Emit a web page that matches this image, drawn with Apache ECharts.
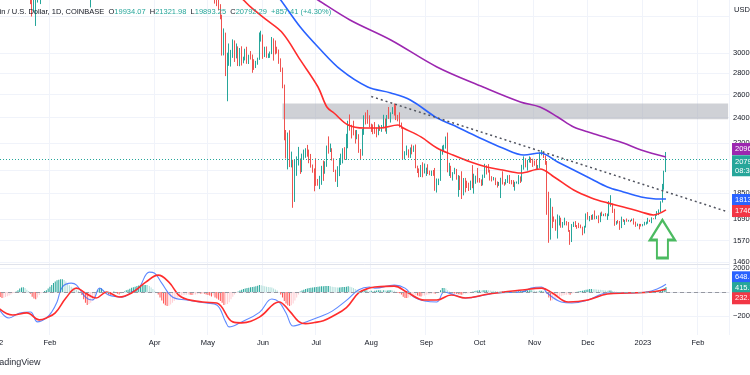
<!DOCTYPE html>
<html>
<head>
<meta charset="utf-8">
<script src="https://cdn.jsdelivr.net/npm/echarts@6/dist/echarts.min.js"></script>
<style>
html, body { margin: 0; padding: 0; background: #fff; }
#chart { width: 750px; height: 375px; }
</style>
</head>
<body>
<div id="chart"></div>
<script>
// BTC/USD daily, Coinbase. Candles are [open, close, low, high]
const FONT = 'Liberation Sans, Arial, sans-serif';

const monthLabels = [
  ['2022-01-01', '2022'], ['2022-02-01', 'Feb'], ['2022-04-01', 'Apr'], ['2022-05-01', 'May'],
  ['2022-06-01', 'Jun'], ['2022-07-01', 'Jul'], ['2022-08-01', 'Aug'], ['2022-09-01', 'Sep'],
  ['2022-10-01', 'Oct'], ['2022-11-01', 'Nov'], ['2022-12-01', 'Dec'], ['2023-01-01', '2023'],
  ['2023-02-01', 'Feb']
];
const priceTicks = [30000, 28000, 26000, 24000, 22000, 20000, 18500, 16900, 15700, 14600];
const priceGridLines = [34000, 30000, 28000, 26000, 24000, 22000, 20000, 18500, 16900, 15700, 14600];
const macdTicks = [2000, -2000];

const candlesJan22 = [ // from 2022-01-21
  [38970, 36270, 35500, 39150], [36270, 35070, 34020, 36440], [35070, 36250, 34600, 36500],
  [36250, 36660, 32930, 37500], [36660, 36950, 35700, 37550], [36950, 36840, 36250, 38900],
  [36840, 37200, 35510, 37230], [37200, 37720, 36200, 38000], [37720, 38160, 37320, 38700],
  [38160, 37900, 37360, 38370], [37900, 38480, 36650, 38720], [38480, 38700, 38000, 39250]
];
const candlesFeb22 = [ // from 2022-02-22
  [37000, 38250, 36350, 38450], [38250, 37250, 37050, 39230], [37250, 38330, 35100, 38950],
  [38330, 39220, 38020, 39700]
];
const candlesMay = [ // from 2022-05-05
  [39690, 36550, 35570, 39850], [36550, 36010, 35260, 36650], [36010, 35470, 34750, 36130],
  [35470, 34060, 33700, 35500], [34060, 30070, 29730, 34230], [30070, 31010, 29750, 32650],
  [31010, 28940, 27700, 32180], [28940, 29030, 25400, 30030], [29030, 29290, 28700, 31000],
  [29290, 30080, 28630, 30320], [30080, 31330, 29500, 31440], [31330, 29830, 29090, 31330],
  [29830, 30450, 29450, 31000], [30450, 28710, 28680, 30690], [28710, 30290, 28660, 30520],
  [30290, 29190, 28730, 30700], [29190, 29430, 28950, 29620], [29430, 30280, 29240, 30440],
  [30280, 29100, 28900, 30650], [29100, 29650, 28880, 29820], [29650, 29560, 29330, 30200],
  [29560, 29270, 28020, 29840], [29270, 28630, 28300, 29360], [28630, 29030, 28480, 29200],
  [29030, 29470, 28810, 29520], [29470, 31720, 29300, 32200], [31720, 31790, 31200, 32390]
];
const candlesJun = [
  [31790, 29800, 29400, 31970], [29800, 30450, 29580, 30650], [30450, 29700, 29500, 30680],
  [29700, 29860, 29480, 29950], [29860, 29910, 29500, 30150], [29910, 31370, 29880, 31700],
  [31370, 31130, 29220, 31550], [31130, 30200, 29850, 31320], [30200, 30110, 29940, 30650],
  [30110, 29090, 28900, 30360], [29090, 28400, 28100, 29450], [28400, 26590, 26560, 28530],
  [26590, 22480, 22200, 26900], [22480, 22130, 20850, 23000], [22130, 22580, 20080, 22800],
  [22580, 20390, 20240, 22980], [20390, 20470, 20220, 21350], [20470, 19000, 17590, 20760],
  [19000, 20560, 17950, 20780], [20560, 20570, 19640, 21000], [20570, 20710, 20350, 21700],
  [20710, 19960, 19770, 20850], [19960, 21090, 19890, 21200], [21090, 21230, 20750, 21500],
  [21230, 21490, 20900, 21600], [21490, 21030, 20980, 21850], [21030, 20720, 20510, 21500],
  [20720, 20250, 20200, 21180], [20250, 20100, 19850, 20420], [20100, 19930, 18620, 20150]
];
const candlesJul = [
  [19930, 19280, 18970, 20870], [19280, 19240, 18980, 19430], [19240, 19300, 18760, 19640],
  [19300, 20230, 19040, 20330], [20230, 20190, 19300, 20700], [20190, 20550, 19780, 20650],
  [20550, 21630, 20260, 21800], [21630, 21590, 21200, 22500], [21590, 21590, 21320, 21950],
  [21590, 20840, 20700, 21600], [20840, 19960, 19900, 20860], [19960, 19330, 19240, 20060],
  [19330, 20220, 18900, 20300], [20220, 20580, 19620, 20880], [20580, 20830, 20390, 21200],
  [20830, 21190, 20500, 21600], [21190, 20790, 20760, 21680], [20790, 22430, 20750, 22700],
  [22430, 23400, 21600, 23750], [23400, 23230, 22950, 24270], [23230, 23160, 22340, 23420],
  [23160, 22690, 22580, 23750], [22690, 22460, 21950, 22990], [22460, 22580, 22280, 23000],
  [22580, 21310, 21260, 22670], [21310, 21250, 20740, 21540], [21250, 22950, 21050, 23100],
  [22950, 23850, 22620, 24200], [23850, 23780, 23440, 24440], [23780, 23650, 23500, 24650],
  [23650, 23300, 23220, 24200]
];
const candlesAug = [
  [23300, 23270, 22850, 23510], [23270, 22980, 22670, 23450], [22980, 22820, 22700, 23640],
  [22820, 22620, 22430, 23200], [22620, 23310, 22590, 23450], [23310, 23180, 22930, 23350],
  [23180, 23180, 22860, 23400], [23180, 23810, 23150, 24240], [23810, 23160, 22880, 23930],
  [23160, 23950, 22700, 24220], [23950, 23930, 23900, 24900], [23930, 24410, 23600, 24450],
  [24410, 24450, 24300, 24890], [24450, 24300, 24180, 25200], [24300, 24100, 23800, 25050],
  [24100, 23860, 23700, 24230], [23860, 23340, 23200, 24450], [23340, 23200, 23100, 23600],
  [23200, 20880, 20800, 23200], [20880, 21150, 20780, 21380], [21150, 21520, 21080, 21800],
  [21520, 21400, 20900, 21520], [21400, 21530, 20890, 21660], [21530, 21370, 21150, 21880],
  [21370, 21570, 21330, 21800], [21570, 20250, 20160, 21880], [20250, 20040, 19830, 20340],
  [20040, 19560, 19540, 20150], [19560, 20290, 19560, 20390], [20290, 19800, 19540, 20580],
  [19800, 20050, 19800, 20490]
];
const candlesSep = [
  [20050, 20130, 19630, 20200], [20130, 19950, 19760, 20440], [19950, 19830, 19680, 20000],
  [19830, 19990, 19630, 20000], [19990, 19800, 19640, 20040], [19800, 18790, 18650, 20180],
  [18790, 19290, 18540, 19460], [19290, 19320, 19020, 19450], [19320, 21370, 19300, 21550],
  [21370, 21650, 21120, 21800], [21650, 21830, 21380, 21860], [21830, 22400, 21570, 22490],
  [22400, 20180, 19880, 22800], [20180, 20230, 19630, 20540], [20230, 19710, 19500, 20330],
  [19710, 19800, 19320, 19890], [19800, 20110, 19750, 20190], [20110, 19420, 19380, 20110],
  [19420, 19540, 18270, 19690], [19540, 18880, 18700, 19640], [18880, 18490, 18130, 19950],
  [18490, 19410, 18360, 19490], [19410, 19290, 18550, 19500], [19290, 18920, 18830, 19310],
  [18920, 18810, 18640, 19180], [18810, 19220, 18700, 19320], [19220, 19090, 18820, 20380],
  [19090, 19420, 18470, 19780], [19420, 19590, 19110, 19650], [19590, 19420, 19190, 20180]
];
const candlesOct = [
  [19420, 19310, 19180, 19490], [19310, 19060, 18960, 19400], [19060, 19630, 19000, 19720],
  [19630, 20340, 19500, 20470], [20340, 20160, 19730, 20370], [20160, 19960, 19860, 20450],
  [19960, 19530, 19320, 20060], [19530, 19420, 19260, 19620], [19420, 19440, 19330, 19560],
  [19440, 19130, 19020, 19520], [19130, 19060, 18860, 19260], [19060, 19160, 18970, 19230],
  [19160, 19380, 18190, 19510], [19380, 19180, 19060, 19950], [19180, 19070, 18980, 19220],
  [19070, 19260, 19060, 19420], [19260, 19550, 19160, 19680], [19550, 19330, 19100, 19700],
  [19330, 19130, 19070, 19360], [19130, 19040, 18900, 19350], [19040, 19170, 18660, 19240],
  [19170, 19200, 19120, 19260], [19200, 19570, 19080, 19690], [19570, 19330, 19160, 19600],
  [19330, 20090, 19250, 20400], [20090, 20770, 20060, 21000], [20770, 20290, 20220, 20870],
  [20290, 20600, 20000, 20750], [20600, 20820, 20560, 21000], [20820, 20630, 20530, 20930],
  [20630, 20490, 20250, 20830]
];
const candlesNov = [
  [20490, 20480, 20340, 20700], [20480, 20150, 20070, 20800], [20150, 20200, 20050, 20390],
  [20200, 21140, 20180, 21300], [21140, 21300, 21080, 21470], [21300, 20910, 20880, 21360],
  [20910, 20590, 20400, 21060], [20590, 18540, 17170, 20670], [18540, 15880, 15590, 18590],
  [15880, 17590, 15760, 18180], [17590, 17070, 16400, 17650], [17070, 16800, 16760, 17070],
  [16800, 16330, 16250, 16900], [16330, 16620, 15820, 17190], [16620, 16900, 16550, 17120],
  [16900, 16660, 16420, 17000], [16660, 16690, 16420, 16750], [16690, 16700, 16560, 17000],
  [16700, 16630, 16550, 16800], [16630, 16280, 16190, 16750], [16280, 15780, 15480, 16290],
  [15780, 16590, 15630, 16630], [16590, 16600, 16460, 16760], [16600, 16520, 16460, 16800],
  [16520, 16460, 16360, 16570], [16460, 16440, 16400, 16700], [16440, 16430, 16390, 16600],
  [16430, 16210, 16000, 16480], [16210, 16440, 16100, 16530], [16440, 17160, 16430, 17250]
];
const candlesDec = [
  [17160, 16980, 16880, 17330], [16980, 17090, 16790, 17100], [17090, 16890, 16870, 17160],
  [16890, 17110, 16880, 17200], [17110, 16970, 16900, 17430], [16970, 17090, 16920, 17110],
  [17090, 16840, 16680, 17140], [16840, 17230, 16740, 17300], [17230, 17130, 17090, 17360],
  [17130, 17130, 17090, 17230], [17130, 17090, 17080, 17270], [17090, 17210, 16870, 17240],
  [17210, 17780, 17090, 18000], [17780, 17810, 17660, 18370], [17810, 17360, 17280, 17850],
  [17360, 16630, 16530, 17530], [16630, 16780, 16590, 16800], [16780, 16740, 16660, 16860],
  [16740, 16440, 16300, 16810], [16440, 16900, 16400, 17060], [16900, 16820, 16760, 16920],
  [16820, 16830, 16580, 16870], [16830, 16780, 16760, 16950], [16780, 16840, 16770, 16870],
  [16840, 16830, 16740, 16860], [16830, 16910, 16800, 16940], [16910, 16700, 16600, 16960],
  [16700, 16540, 16470, 16770], [16540, 16630, 16510, 16660], [16630, 16600, 16330, 16640],
  [16600, 16540, 16490, 16640]
];
const candlesJan23 = [
  [16540, 16620, 16500, 16630], [16620, 16670, 16550, 16760], [16670, 16670, 16600, 16770],
  [16670, 16850, 16650, 16990], [16850, 16830, 16750, 16880], [16830, 16950, 16680, 17020],
  [16950, 16940, 16910, 16970], [16940, 17120, 16910, 17170], [17120, 17190, 17110, 17390],
  [17190, 17440, 17150, 17490], [17440, 17940, 17320, 17990], [17940, 18850, 17910, 19100],
  [18850, 19930, 18720, 19990], [19934.07, 20792.29, 19893.25, 21321.98]
];

// moving averages: [date, value]
const ma50 = [
  ['2022-05-10', 38300], ['2022-05-21', 36010], ['2022-05-25', 35160], ['2022-06-03', 33620],
  ['2022-06-12', 32140], ['2022-06-22', 29290], ['2022-07-02', 26680], ['2022-07-07', 24900],
  ['2022-07-11', 24390], ['2022-07-19', 23400], ['2022-07-28', 23160], ['2022-08-06', 23160],
  ['2022-08-16', 23400], ['2022-08-19', 23160], ['2022-08-29', 22460], ['2022-09-07', 21620],
  ['2022-09-16', 21100], ['2022-09-26', 20600], ['2022-10-05', 20250], ['2022-10-14', 20040],
  ['2022-10-24', 19830], ['2022-11-04', 20110], ['2022-11-12', 19560], ['2022-11-23', 18700],
  ['2022-12-03', 18200], ['2022-12-12', 17890], ['2022-12-21', 17640], ['2022-12-31', 17340],
  ['2023-01-07', 17160], ['2023-01-14', 17460]
];
const ma100 = [
  ['2022-06-01', 39000], ['2022-06-11', 36010], ['2022-06-22', 32810], ['2022-07-02', 30630],
  ['2022-07-15', 28290], ['2022-07-30', 26680], ['2022-08-12', 26140], ['2022-08-23', 25510],
  ['2022-09-07', 23980], ['2022-09-16', 23400], ['2022-09-30', 22460], ['2022-10-14', 21620],
  ['2022-10-26', 21100], ['2022-11-04', 21250], ['2022-11-14', 20600], ['2022-11-23', 20040],
  ['2022-12-03', 19430], ['2022-12-12', 18900], ['2022-12-21', 18580], ['2022-12-31', 18260],
  ['2023-01-07', 18150], ['2023-01-14', 18130]
];
const ma200 = [
  ['2022-06-11', 39100], ['2022-07-02', 36010], ['2022-07-20', 33620], ['2022-08-12', 31380],
  ['2022-09-07', 28590], ['2022-10-03', 26680], ['2022-10-24', 25340], ['2022-11-04', 24900],
  ['2022-11-14', 24060], ['2022-11-23', 23240], ['2022-12-03', 22770], ['2022-12-12', 22380],
  ['2022-12-21', 22000], ['2022-12-31', 21470], ['2023-01-14', 20960]
];
const trendLine = [['2022-08-01', 25820], ['2023-02-18', 17340]];
const resistanceZone = [23870, 25200];
const resistanceFrom = '2022-06-12';
const arrowPoint = [['2023-01-12', 15800]];
const lastClose = 20792.29;

// MACD (12, 26, 9)
const macdLine = [
  ['2022-01-03', -1330], ['2022-01-09', -2170], ['2022-01-15', -1750], ['2022-01-21', -1670],
  ['2022-01-25', -2500], ['2022-01-30', -2170], ['2022-02-02', -1670], ['2022-02-05', -830],
  ['2022-02-08', 420], ['2022-02-13', 750], ['2022-02-16', 580], ['2022-02-21', -420],
  ['2022-02-25', -670], ['2022-03-01', 330], ['2022-03-06', -250], ['2022-03-14', -420],
  ['2022-03-19', 0], ['2022-03-23', 330], ['2022-03-29', 1670], ['2022-04-01', 1580],
  ['2022-04-05', 750], ['2022-04-11', -420], ['2022-04-19', -670], ['2022-04-30', -920],
  ['2022-05-06', -1080], ['2022-05-11', -2500], ['2022-05-13', -2920], ['2022-05-19', -2580],
  ['2022-05-30', -1700], ['2022-06-06', -580], ['2022-06-10', -830], ['2022-06-14', -1750],
  ['2022-06-18', -2850], ['2022-06-22', -2700], ['2022-06-27', -2400], ['2022-07-03', -2080],
  ['2022-07-10', -1600], ['2022-07-18', -700], ['2022-07-25', 200], ['2022-07-31', 420],
  ['2022-08-03', 330], ['2022-08-14', 580], ['2022-08-20', 330], ['2022-08-25', -420],
  ['2022-08-31', -750], ['2022-09-07', -830], ['2022-09-11', 0], ['2022-09-17', -250],
  ['2022-09-23', -500], ['2022-10-04', -250], ['2022-10-10', -80], ['2022-10-25', 0],
  ['2022-10-30', 330], ['2022-11-05', 420], ['2022-11-08', -80], ['2022-11-16', -830],
  ['2022-11-22', -920], ['2022-12-01', -670], ['2022-12-12', -80], ['2022-12-23', -80],
  ['2023-01-03', 0], ['2023-01-09', 250], ['2023-01-14', 648]
];
const signalLine = [
  ['2022-01-03', -1330], ['2022-01-11', -1920], ['2022-01-19', -1750], ['2022-01-26', -2330],
  ['2022-01-30', -2170], ['2022-02-04', -1750], ['2022-02-10', -500], ['2022-02-16', 330],
  ['2022-02-21', -80], ['2022-02-27', -500], ['2022-03-05', 0], ['2022-03-12', -420],
  ['2022-03-19', -80], ['2022-03-27', 830], ['2022-04-03', 1420], ['2022-04-09', 830],
  ['2022-04-16', -420], ['2022-04-28', -830], ['2022-05-06', -920], ['2022-05-15', -2500],
  ['2022-05-20', -2580], ['2022-05-30', -2100], ['2022-06-10', -830], ['2022-06-16', -1600],
  ['2022-06-21', -2450], ['2022-06-25', -2650], ['2022-06-30', -2550], ['2022-07-05', -2400],
  ['2022-07-10', -2050], ['2022-07-18', -1300], ['2022-07-25', -50], ['2022-07-31', 330],
  ['2022-08-03', 420], ['2022-08-14', 500], ['2022-08-21', 0], ['2022-08-31', -670],
  ['2022-09-07', -670], ['2022-09-15', -250], ['2022-09-23', -500], ['2022-10-06', -170],
  ['2022-10-25', 170], ['2022-11-05', 330], ['2022-11-11', -80], ['2022-11-20', -830],
  ['2022-12-01', -670], ['2022-12-12', -170], ['2022-12-23', -80], ['2023-01-06', 0],
  ['2023-01-14', 232]
];
const histJan22 = [ // from 2022-01-03
  -300, -420, -500, -480, -420, -350, -280, -200, -100, -30, 50, 150, 300, 380, 400, 330, 200,
  80, -150, -400, -550, -600, -450, -250, -100, 0, 80, 150, 300
];
const histFeb22 = [
  450, 600, 750, 880, 980, 1040, 1080, 1080, 1000, 880, 700, 560, 450, 350, 280, 200, 100, 0,
  -250, -600, -900, -1080, -1000, -900, -700, -450, -200, 150
];
const histMar22 = [
  300, 300, 200, 50, -100, -200, -250, -150, 50, -50, -150, -200, -150, -50, 50, 150,
  200, 280, 350, 400, 450, 500, 550, 580, 600, 600, 600, 580, 500, 380, 250
];
const histApr22 = [
  100, -50, -200, -450, -700, -950, -1100, -1170, -1150, -1050, -900, -750, -600, -480, -380,
  -300, -260, -250, -230, -200, -220, -250, -230, -200, -180, -150, -150, -120, -150, -200
];
const histMay22 = [
  -250, -300, -380, -300, -450, -550, -650, -750, -900, -1080, -1050, -1000, -850, -600, -400,
  -200, -50, 50, 120, 200, 250, 300, 330, 350, 400, 420, 450, 480, 520, 580, 560
];
const histJun22 = [
  520, 480, 450, 420, 400, 380, 300, 220, 120, 0, -200, -450, -750, -950, -1100, -1170, -1100,
  -950, -700, -450, -200, 50, 120, 200, 250, 300, 330, 360, 380, 400
];
const histJul22 = [
  420, 440, 460, 480, 490, 500, 500, 500, 480, 450, 420, 400, 380, 380, 400, 420, 420, 450,
  480, 450, 400, 330, 250, 200, 120, 50, 80, 150, 150, 120, 80
];
const histAug22 = [
  100, 80, 100, 120, 150, 150, 130, 150, 120, 130, 150, 150, 130, 100, 20, -50, -100, -200,
  -400, -500, -500, -450, -400, -350, -300, -280, -300, -350, -380, -320, -280
];
const histSep22 = [
  -220, -200, -180, -150, -130, -150, -100, 0, 150, 330, 330, 300, 150, 50, -50, -100, -120,
  -150, -180, -200, -220, -180, -150, -120, -100, -50, 20, 60, 100, 130
];
const histOct22 = [
  140, 130, 140, 160, 160, 150, 130, 110, 100, 80, 60, 50, 40, 40, 40, 50, 60, 60, 50, 40, 40,
  40, 60, 60, 80, 120, 130, 130, 140, 140, 120
];
const histNov22 = [
  100, 80, 70, 100, 110, 90, 60, -150, -450, -700, -680, -620, -560, -500, -420, -350, -300,
  -250, -220, -200, -220, -150, -80, -20, 30, 60, 90, 110, 140, 200
];
const histDec22 = [
  220, 250, 250, 240, 230, 220, 200, 190, 170, 150, 130, 110, 120, 120, 90, 40, 20, 0, -20,
  -10, -10, -10, -10, 0, 0, 10, 0, -10, -10, -10, -5
];
const histJan23 = [0, 10, 20, 40, 50, 60, 70, 90, 110, 140, 180, 250, 330, 415];

const headerName = 'Bitcoin / U.S. Dollar, 1D, COINBASE';
const headerOHLC = [['O', '19934.07'], ['H', '21321.98'], ['L', '19893.25'], ['C', '20792.29']];
const headerChange = '+857.41 (+4.30%)';
const countdown = '08:36:17';

// ---- build
const days = [];
for (let t = Date.UTC(2022, 0, 1); t <= Date.UTC(2023, 1, 18); t += 86400000) {
  days.push(new Date(t).toISOString().slice(0, 10));
}
const monthMap = Object.fromEntries(monthLabels);
const isMonth = (i, v) => monthMap[v] !== undefined;

function fillDaily(blocks) {
  const out = days.map(() => '-');
  blocks.forEach(([start, rows]) => {
    const i0 = days.indexOf(start);
    rows.forEach((r, k) => { out[i0 + k] = r; });
  });
  return out;
}
const candleData = fillDaily([
  ['2022-01-21', candlesJan22], ['2022-02-22', candlesFeb22], ['2022-05-05', candlesMay],
  ['2022-06-01', candlesJun], ['2022-07-01', candlesJul], ['2022-08-01', candlesAug],
  ['2022-09-01', candlesSep], ['2022-10-01', candlesOct], ['2022-11-01', candlesNov],
  ['2022-12-01', candlesDec], ['2023-01-01', candlesJan23]
]);
const histData = fillDaily([
  ['2022-01-03', histJan22], ['2022-02-01', histFeb22], ['2022-03-01', histMar22],
  ['2022-04-01', histApr22], ['2022-05-01', histMay22], ['2022-06-01', histJun22],
  ['2022-07-01', histJul22], ['2022-08-01', histAug22], ['2022-09-01', histSep22],
  ['2022-10-01', histOct22], ['2022-11-01', histNov22], ['2022-12-01', histDec22],
  ['2023-01-01', histJan23]
]);

const UP = '#26a69a', DOWN = '#ef5350';
const RED = '#ff2d2d', BLUE = '#2962ff', PURPLE = '#9c27b0';

const chart = echarts.init(document.getElementById('chart'), null, { renderer: 'canvas' });

const maSeries = (name, data, color) => ({
  name, type: 'line', data, xAxisIndex: 0, yAxisIndex: 0,
  showSymbol: false, smooth: 0.35, silent: true, z: 4,
  lineStyle: { color, width: 1.6 }
});

chart.setOption({
  animation: false,
  backgroundColor: '#ffffff',
  textStyle: { fontFamily: FONT },
  grid: [
    { left: -6, right: 21, top: 0, height: 264, containLabel: false, outerBoundsMode: 'none' },
    { left: -6, right: 21, top: 264, height: 71, containLabel: false, outerBoundsMode: 'none' }
  ],
  xAxis: [
    {
      type: 'category', gridIndex: 0, data: days, boundaryGap: true,
      axisLine: { show: true, lineStyle: { color: '#e0e3eb' } },
      axisTick: { show: false }, axisLabel: { show: false },
      splitLine: { show: true, interval: isMonth, lineStyle: { color: '#f0f3fa' } }
    },
    {
      type: 'category', gridIndex: 1, data: days, boundaryGap: true,
      axisLine: { show: true, lineStyle: { color: '#e0e3eb' } },
      axisTick: { show: false },
      axisLabel: {
        interval: isMonth, formatter: v => monthMap[v] || '',
        color: '#131722', fontSize: 7.5, fontFamily: FONT, margin: 4
      },
      splitLine: { show: true, interval: isMonth, lineStyle: { color: '#f0f3fa' } }
    }
  ],
  yAxis: [
    {
      type: 'log', gridIndex: 0, position: 'right', min: 14490, max: 36014,
      axisLine: { show: false },
      axisTick: { show: false, customValues: priceGridLines },
      axisLabel: {
        customValues: priceTicks, formatter: v => String(Math.round(v)),
        color: '#131722', fontSize: 7.5, fontFamily: FONT, margin: 4
      },
      splitLine: { show: true, lineStyle: { color: '#f0f3fa' } }
    },
    {
      type: 'value', gridIndex: 1, position: 'right', min: -3600, max: 2350,
      axisLine: { show: false },
      axisTick: { show: false, customValues: macdTicks },
      axisLabel: {
        customValues: macdTicks, formatter: v => (v < 0 ? '\u2212' + Math.abs(v) : String(v)),
        color: '#131722', fontSize: 7.5, fontFamily: FONT, margin: 4
      },
      splitLine: { show: true, lineStyle: { color: '#f0f3fa' } }
    }
  ],
  series: [
    {
      name: 'BTCUSD', type: 'candlestick', data: candleData, xAxisIndex: 0, yAxisIndex: 0,
      barWidth: '65%', z: 3, silent: true,
      itemStyle: { color: UP, color0: DOWN, borderColor: UP, borderColor0: DOWN, borderWidth: 1 },
      markArea: {
        silent: true,
        itemStyle: { color: 'rgba(160,163,174,0.5)' },
        data: [[{ xAxis: resistanceFrom, yAxis: resistanceZone[0] }, { xAxis: days[days.length - 1], yAxis: resistanceZone[1] }]]
      },
      markLine: {
        silent: true, symbol: 'none', label: { show: false },
        lineStyle: { color: UP, type: [1, 2], width: 1 },
        data: [{ yAxis: lastClose }]
      }
    },
    maSeries('MA 50', ma50, RED),
    maSeries('MA 100', ma100, BLUE),
    maSeries('MA 200', ma200, PURPLE),
    {
      name: 'trend', type: 'line', data: trendLine, xAxisIndex: 0, yAxisIndex: 0,
      showSymbol: false, silent: true, z: 5,
      lineStyle: { color: '#50535e', width: 1.5, type: [2, 3] }
    },
    {
      name: 'arrow', type: 'scatter', data: arrowPoint, xAxisIndex: 0, yAxisIndex: 0,
      symbol: 'path://M12.5,0 L25,20 L18,20 L18,38 L7,38 L7,20 L0,20 Z',
      symbolSize: [25, 38], silent: true, z: 6,
      itemStyle: { color: 'rgba(0,0,0,0)', borderColor: '#1faa3a', borderWidth: 2.4 }
    },
    {
      name: 'Histogram', type: 'bar', data: histData, xAxisIndex: 1, yAxisIndex: 1,
      barWidth: '55%', silent: true, z: 2,
      itemStyle: {
        color: p => {
          const v = p.value;
          const prev = histData[p.dataIndex - 1];
          const pv = typeof prev === 'number' ? prev : v;
          if (v >= 0) return v >= pv ? UP : '#b2dfdb';
          return v <= pv ? '#ff5252' : '#ffcdd2';
        }
      },
      markLine: {
        silent: true, symbol: 'none', label: { show: false },
        lineStyle: { color: '#9598a1', type: [4, 3], width: 1 },
        data: [{ yAxis: 0 }]
      }
    },
    {
      name: 'MACD', type: 'line', data: macdLine, xAxisIndex: 1, yAxisIndex: 1,
      showSymbol: false, smooth: 0.4, silent: true, z: 4,
      lineStyle: { color: BLUE, width: 1.1, opacity: 0.75 }
    },
    {
      name: 'Signal', type: 'line', data: signalLine, xAxisIndex: 1, yAxisIndex: 1,
      showSymbol: false, smooth: 0.4, silent: true, z: 4,
      lineStyle: { color: RED, width: 1.6 }
    }
  ]
});

// right-hand value tags, placed at their values through the axes
const tags = [
  { axis: 0, value: ma200[ma200.length - 1][1], text: '20960.00', color: PURPLE, dy: -8, va: 'middle' },
  { axis: 0, value: lastClose, text: lastClose.toFixed(2) + '\n' + countdown, color: UP, dy: -4, va: 'top' },
  { axis: 0, value: ma100[ma100.length - 1][1], text: '18130.00', color: BLUE, dy: 1, va: 'middle' },
  { axis: 0, value: ma50[ma50.length - 1][1], text: '17460.00', color: '#f23645', dy: 1, va: 'middle' },
  { axis: 1, value: macdLine[macdLine.length - 1][1], text: '648.52', color: BLUE, dy: -7, va: 'middle' },
  { axis: 1, value: histJan23[histJan23.length - 1], text: '415.77', color: UP, dy: 1, va: 'middle' },
  { axis: 1, value: signalLine[signalLine.length - 1][1], text: '232.75', color: '#f23645', dy: 9, va: 'middle' }
];
const graphics = tags.map(t => {
  const y = chart.convertToPixel({ yAxisIndex: t.axis }, t.value);
  return {
    type: 'text', x: 732, y: y + t.dy, z: 100, silent: true,
    style: {
      text: t.text, fill: '#ffffff', backgroundColor: t.color,
      padding: [2, 3, 1, 3], fontSize: 7.5, fontFamily: FONT,
      lineHeight: 9, verticalAlign: t.va
    }
  };
});
const rich = {
  t: { fill: '#131722', fontSize: 7.5, fontFamily: FONT },
  k: { fill: '#131722', fontSize: 7.5, fontFamily: FONT },
  v: { fill: UP, fontSize: 7.5, fontFamily: FONT }
};
graphics.push({
  type: 'text', x: -17, y: 12, z: 100, silent: true,
  style: {
    text: '{t|' + headerName + '}  ' +
      headerOHLC.map(([k, v]) => '{k|' + k + '}{v|' + v + '}').join('  ') +
      '  {v|' + headerChange + '}',
    rich, verticalAlign: 'middle', fontSize: 7.5, fontFamily: FONT
  }
});
graphics.push({
  type: 'text', x: 734, y: 10, z: 100, silent: true,
  style: { text: 'USD', fill: '#131722', fontSize: 7.5, fontFamily: FONT, verticalAlign: 'middle' }
});
graphics.push({
  type: 'text', x: -9, y: 363, z: 100, silent: true,
  style: { text: 'TradingView', fill: '#2a2e39', fontSize: 9, fontFamily: FONT, verticalAlign: 'middle' }
});
chart.setOption({ graphic: graphics });
</script>
</body>
</html>
